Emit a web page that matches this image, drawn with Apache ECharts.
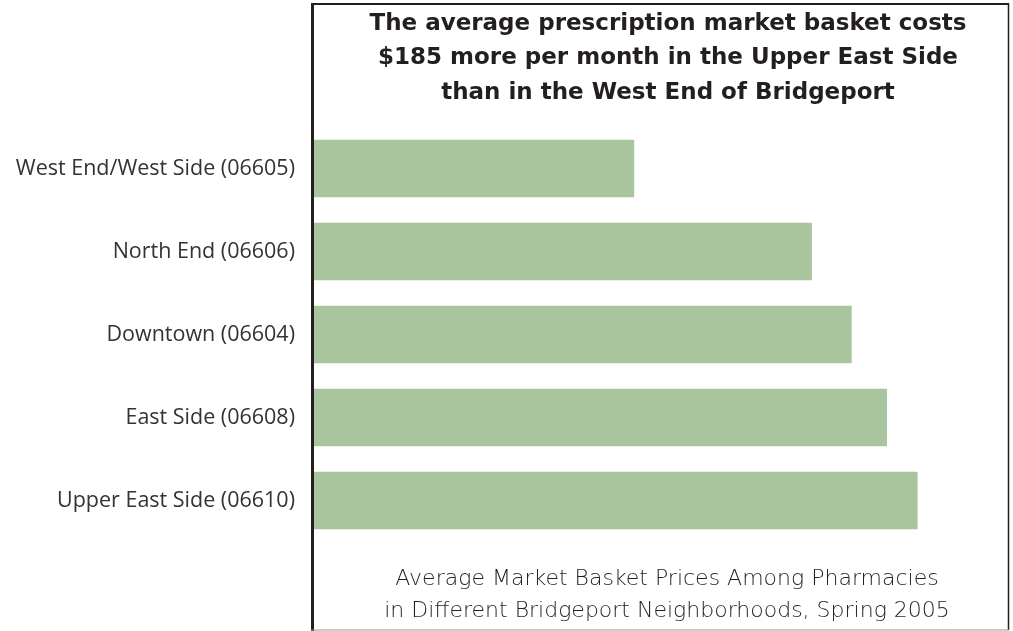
<!DOCTYPE html>
<html>
<head>
<meta charset="utf-8">
<script src="https://cdn.jsdelivr.net/npm/echarts@6/dist/echarts.min.js"></script>
<style>
  html, body { margin: 0; padding: 0; background: #fff; }
  #main { width: 1013px; height: 631px; }
</style>
</head>
<body>
<div id="main"></div>
<script>
const neighborhoods = [
  "West End/West Side (06605)",
  "North End (06606)",
  "Downtown (06604)",
  "East Side (06608)",
  "Upper East Side (06610)"
];
const basketPrice = [209, 325, 351, 374, 394];

const titleLines = [
  "The average prescription market basket costs",
  "$185 more per month in the Upper East Side",
  "than in the West End of Bridgeport"
];
const captionLines = [
  "Average Market Basket Prices Among Pharmacies",
  "in Different Bridgeport Neighborhoods, Spring 2005"
];

const chart = echarts.init(document.getElementById("main"));

// frame around the plot
const frame = [
  { type: "line", shape: { x1: 312.5, y1: 4, x2: 312.5, y2: 631 }, style: { stroke: "#231f20", lineWidth: 3 } },
  { type: "line", shape: { x1: 311, y1: 4, x2: 1009, y2: 4 }, style: { stroke: "#231f20", lineWidth: 2 } },
  { type: "line", shape: { x1: 1008.5, y1: 3, x2: 1008.5, y2: 630 }, style: { stroke: "#231f20", lineWidth: 1.5 } },
  { type: "line", shape: { x1: 311, y1: 630, x2: 1009, y2: 630 }, style: { stroke: "#999", lineWidth: 1 } }
];

const titleText = titleLines.map((t, i) => ({
  type: "text", x: 668, y: 24 + i * 34.5,
  style: { text: t, textAlign: "center", textVerticalAlign: "middle",
    font: "bold 23px 'DejaVu Sans'", fill: "#231f20" }
}));

const captionText = captionLines.map((t, i) => ({
  type: "text", x: 667, y: 579 + i * 32,
  style: { text: t, textAlign: "center", textVerticalAlign: "middle",
    font: "200 22px 'DejaVu Sans'", fill: "#231f20" }
}));

chart.setOption({
  animation: false,
  grid: { left: 314, right: 5, top: 127, bottom: 89 },
  xAxis: {
    type: "value", min: 0, max: 453,
    show: false
  },
  yAxis: {
    type: "category",
    data: neighborhoods,
    inverse: true,
    axisLine: { show: false },
    axisTick: { show: false },
    axisLabel: { color: "#333", fontSize: 21.5, fontFamily: "Open Sans", margin: 19 }
  },
  series: [{
    type: "bar",
    data: basketPrice,
    barCategoryGap: "31%",
    itemStyle: { color: "#a9c59d" }
  }],
  graphic: [...frame, ...titleText, ...captionText]
});
</script>
</body>
</html>
